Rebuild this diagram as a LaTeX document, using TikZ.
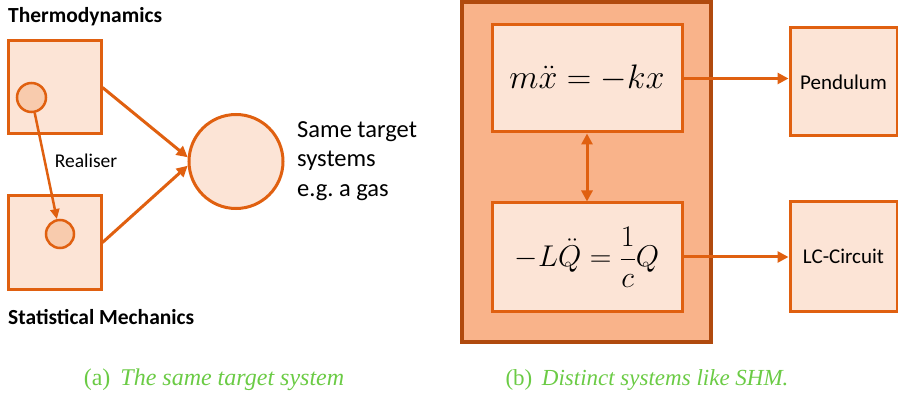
\RequirePackage{fix-cm}
\documentclass[tikz,border=0pt]{standalone}
\usepackage[no-math]{fontspec}
\usepackage{amsmath}
\setmainfont{Carlito}
\newfontfamily\capfont{Liberation Serif}
\usetikzlibrary{arrows.meta}
\definecolor{edgeorange}{HTML}{E06010}
\definecolor{paleorange}{HTML}{FCE4D6}
\definecolor{softorange}{HTML}{F8CBAD}
\definecolor{midorange}{HTML}{F9B38A}
\definecolor{darkorange}{HTML}{B04A0E}
\definecolor{capgreen}{HTML}{6BCB45}
\begin{document}
\begin{tikzpicture}[x = 1pt, y = -1pt,
	box/.style = {draw = edgeorange, fill = paleorange, line width = 3pt, inner sep = 0pt},
	dot/.style = {circle, draw = edgeorange, fill = softorange, line width = 2.5pt, inner sep = 0pt},
	arr/.style = {draw = edgeorange, line width = 3pt, -{Triangle[length = 11pt, width = 11pt]}},
	title/.style = {anchor = west, inner sep = 0pt, font = \fontsize{21.5}{25}\selectfont\bfseries}]
	\useasboundingbox (0,0) rectangle (898,393);
	% (a) the same target system
	\node[title] (thermo) at (8,17) {Thermodynamics};
	\node[box, minimum width = 93pt, minimum height = 93pt] (thermobox) at (54.5,87.5) {};
	\node[box, minimum width = 93pt, minimum height = 93pt] (statbox) at (54.5,242.5) {};
	\node[dot, minimum size = 29pt] (thermodot) at (31.5,97.5) {};
	\node[dot, minimum size = 28pt] (statdot) at (60,234) {};
	\node[box, circle, minimum size = 94pt] (gas) at (236,161.5) {};
	\draw[arr, line width = 2.5pt, -{Triangle[length = 10pt, width = 9pt]}] (thermodot) -- (statdot);
	\node[font = \fontsize{19.5}{23}\selectfont] (realiser) at (86,161) {Realiser};
	\draw[arr] (thermobox.east) -- (gas.175);
	\draw[arr] (statbox.east) -- (gas.185);
	\node[anchor = west, align = left, inner sep = 0pt, font = \fontsize{24.5}{29.5}\selectfont] (target) at (297,161) {Same target\\systems\\e.g.\ a gas};
	\node[title] (statmech) at (8,317) {Statistical Mechanics};
	% (b) distinct systems like SHM
	\node[draw = darkorange, fill = midorange, line width = 4pt, minimum width = 249pt, minimum height = 340pt] (shm) at (586.5,172) {};
	\node[box, minimum width = 190pt, minimum height = 107pt, font = \fontsize{34}{40}\selectfont] (spring) at (587,78.5) {$m\ddot{x} = -kx$};
	\node[box, minimum width = 190pt, minimum height = 108pt, font = \fontsize{30}{36}\selectfont] (circuit) at (587,257) {$-L\ddot{Q} = \dfrac{1}{c}Q$};
	\draw[arr, {Triangle[length = 11pt, width = 11pt]}-{Triangle[length = 11pt, width = 11pt]}] (spring) -- (circuit);
	\node[box, minimum width = 107pt, minimum height = 108pt, font = \fontsize{21}{25}\selectfont] (pendulum) at (843.5,82) {Pendulum};
	\node[box, minimum width = 107pt, minimum height = 109pt, font = \fontsize{21}{25}\selectfont] (lc) at (843.5,256.5) {LC-Circuit};
	\draw[arr] (spring.east) -- (spring.east -| pendulum.west);
	\draw[arr] (circuit.east) -- (circuit.east -| lc.west);
	% captions
	\node[text = capgreen, font = \capfont\fontsize{24}{28}\selectfont] (capa) at (214,380) {(a)\, \textit{The same target system}};
	\node[text = capgreen, font = \capfont\fontsize{23}{27}\selectfont] (capb) at (647,380) {(b)\, \textit{Distinct systems like SHM.}};
\end{tikzpicture}
\end{document}
